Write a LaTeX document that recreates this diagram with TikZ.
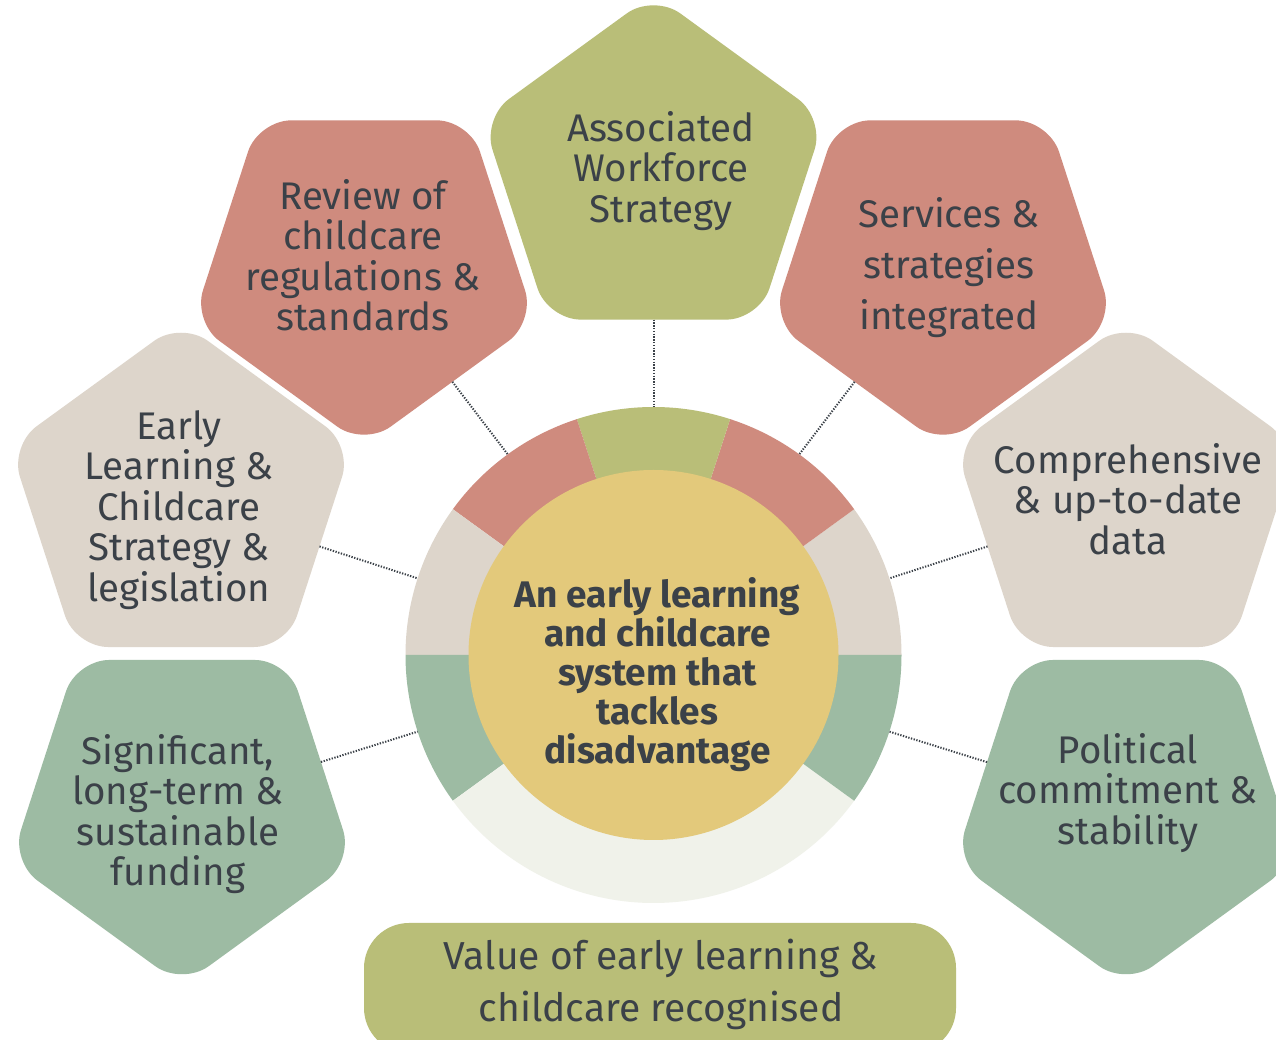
\documentclass[tikz,border=0pt]{standalone}
\usepackage{fontspec}
\setmainfont{Fira Sans}
\usetikzlibrary{shapes.geometric}
\definecolor{cRed}{HTML}{CF8B7E}
\definecolor{cOlive}{HTML}{B9BE78}
\definecolor{cBeige}{HTML}{DDD5CB}
\definecolor{cGreen}{HTML}{9DBBA3}
\definecolor{cPale}{HTML}{F0F2EA}
\definecolor{cYellow}{HTML}{E3C97B}
\definecolor{cText}{HTML}{3B4148}
\tikzset{
  penta/.style={regular polygon, regular polygon sides=5, minimum size=360pt,
    inner sep=0pt, outer sep=0pt, rounded corners=33pt},
  flipped/.style={shape border rotate=180},
  lbl/.style={align=center, text=cText, inner sep=0pt,
    font=\fontsize{38.5}{40.5}\selectfont},
  conn/.style={draw=cText, line width=2pt, dash pattern=on 1.3pt off 1.5pt},
}
\begin{document}
\begin{tikzpicture}[x=1pt,y=1pt]
\useasboundingbox (0,0) rectangle (1276,1040);
\clip (0,0) rectangle (1276,1040);
\fill[white] (0,0) rectangle (1276,1040);
\coordinate (C) at (653.5,385);
% ring segments
\fill[cBeige] (C) -- ++(0:248) arc[start angle=0,end angle=36,radius=248] -- cycle;
\fill[cRed] (C) -- ++(36:248) arc[start angle=36,end angle=72,radius=248] -- cycle;
\fill[cOlive] (C) -- ++(72:248) arc[start angle=72,end angle=108,radius=248] -- cycle;
\fill[cRed] (C) -- ++(108:248) arc[start angle=108,end angle=144,radius=248] -- cycle;
\fill[cBeige] (C) -- ++(144:248) arc[start angle=144,end angle=180,radius=248] -- cycle;
\fill[cGreen] (C) -- ++(180:248) arc[start angle=180,end angle=216,radius=248] -- cycle;
\fill[cPale] (C) -- ++(216:248) arc[start angle=216,end angle=324,radius=248] -- cycle;
\fill[cGreen] (C) -- ++(324:248) arc[start angle=324,end angle=360,radius=248] -- cycle;
% ring anchor points
\path (C) ++(90:248) coordinate (r90);
\path (C) ++(54:248) coordinate (r54);
\path (C) ++(126:248) coordinate (r126);
\path (C) ++(18:248) coordinate (r18);
\path (C) ++(162:248) coordinate (r162);
\path (C) ++(-18:248) coordinate (rm18);
\path (C) ++(-162:248) coordinate (rm162);
% core
\node[circle, fill=cYellow, minimum size=370pt, inner sep=0pt] (core) at (C) {};
\node[lbl, font=\fontsize{37}{39}\selectfont\bfseries] (coreT) at (657.5,365)
  {An early learning\\and childcare\\system that\\tackles\\disadvantage};
% pentagons
\node[penta, fill=cOlive] (assoc) at (653.5,866) {};
\node[penta, flipped, fill=cRed] (review) at (364,774) {};
\node[penta, flipped, fill=cRed] (serv) at (943,774) {};
\node[penta, fill=cBeige] (early) at (181,538.6) {};
\node[penta, fill=cBeige] (comp) at (1126,538.6) {};
\node[penta, flipped, fill=cGreen] (fund) at (182,234.4) {};
\node[penta, flipped, fill=cGreen] (pol) at (1126,234.4) {};
% bottom bar
\node[rectangle, rounded corners=45pt, fill=cOlive, minimum width=592pt,
  minimum height=130pt, inner sep=0pt] (value) at (660,52) {};
% connectors
\draw[conn] (assoc) -- (r90);
\draw[conn] (review) -- (r126);
\draw[conn] (serv) -- (r54);
\draw[conn] (early) -- (r162);
\draw[conn] (comp) -- (r18);
\draw[conn] (fund) -- (rm162);
\draw[conn] (pol) -- (rm18);
% labels
\node[lbl] (assocT) at (661,869) {Associated\\Workforce\\Strategy};
\node[lbl] (reviewT) at (363,785) {Review of\\childcare\\regulations \&\\standards};
\node[lbl, font=\fontsize{38.5}{51}\selectfont] (servT) at (949,772) {Services \&\\strategies\\integrated};
\node[lbl] (earlyT) at (179,530) {Early\\Learning \&\\Childcare\\Strategy \&\\legislation};
\node[lbl] (compT) at (1128,541) {Comprehensive\\\& up-to-date\\data};
\node[lbl] (fundT) at (178,226) {Significant,\\long-term \&\\sustainable\\funding};
\node[lbl] (polT) at (1128,247) {Political\\commitment \&\\stability};
\node[lbl, font=\fontsize{39}{52}\selectfont] (valueT) at (661,56) {Value of early learning \&\\childcare recognised};
\end{tikzpicture}
\end{document}
